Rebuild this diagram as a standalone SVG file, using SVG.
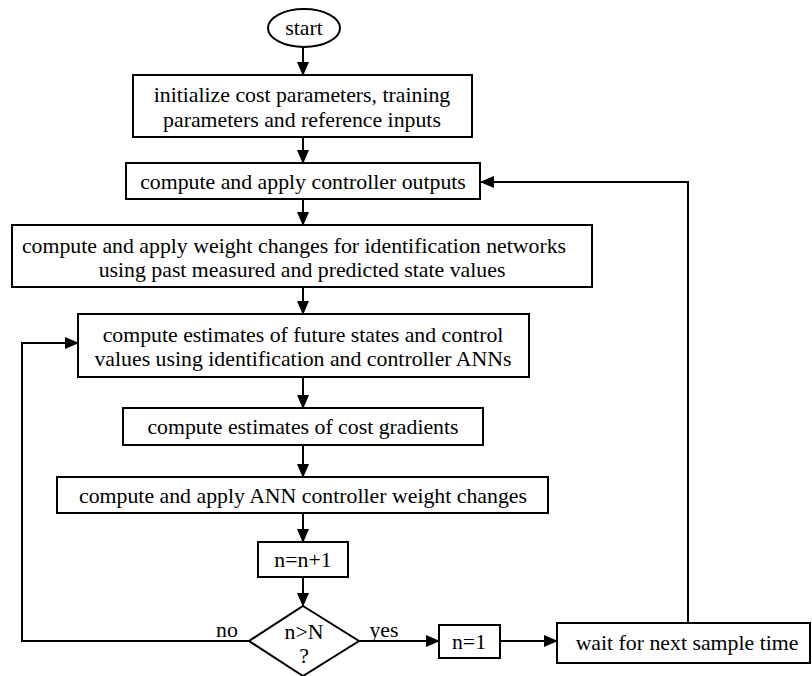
<svg xmlns="http://www.w3.org/2000/svg" width="812" height="676" viewBox="0 0 812 676">
<style>
.box{fill:#fff;stroke:#000;stroke-width:2}
.t{font-family:"Liberation Serif","Times New Roman",serif;font-size:21.8px;fill:#000;text-anchor:middle}
.c{fill:none;stroke:#000;stroke-width:2}
</style>
<defs>
<marker id="ah" markerUnits="userSpaceOnUse" markerWidth="14" markerHeight="12" refX="13" refY="6" orient="auto">
<path d="M0,0 L14,6 L0,12 z" fill="#000"/>
</marker>
</defs>
<rect width="812" height="676" fill="#fff"/>
<g id="connectors">
<line class="c" x1="303" y1="47" x2="303" y2="75" marker-end="url(#ah)"/>
<line class="c" x1="303" y1="137" x2="303" y2="163" marker-end="url(#ah)"/>
<line class="c" x1="303" y1="199" x2="303" y2="225" marker-end="url(#ah)"/>
<line class="c" x1="303" y1="287" x2="303" y2="314" marker-end="url(#ah)"/>
<line class="c" x1="303" y1="377" x2="303" y2="408" marker-end="url(#ah)"/>
<line class="c" x1="303" y1="445" x2="303" y2="477" marker-end="url(#ah)"/>
<line class="c" x1="303" y1="513" x2="303" y2="542" marker-end="url(#ah)"/>
<line class="c" x1="303" y1="577" x2="303" y2="606" marker-end="url(#ah)"/>
<line class="c" x1="359" y1="641" x2="439" y2="641" marker-end="url(#ah)"/>
<line class="c" x1="500" y1="641" x2="557" y2="641" marker-end="url(#ah)"/>
<polyline class="c" points="688,623 688,182 481,182" marker-end="url(#ah)"/>
<polyline class="c" points="249,641 22,641 22,343 78,343" marker-end="url(#ah)"/>
<text class="t" x="227" y="637">no</text>
<text class="t" x="384" y="637">yes</text>
</g>
<g id="start">
<ellipse class="box" cx="304" cy="28" rx="36" ry="19"/>
<text class="t" x="304" y="35">start</text>
</g>
<g id="init">
<rect class="box" x="133" y="75" width="339" height="62"/>
<text class="t" x="302" y="102">initialize cost parameters, training</text>
<text class="t" x="302" y="127">parameters and reference inputs</text>
</g>
<g id="controller-outputs">
<rect class="box" x="126" y="163" width="354" height="36"/>
<text class="t" x="303" y="189">compute and apply controller outputs</text>
</g>
<g id="id-weights">
<rect class="box" x="12" y="225" width="580" height="62"/>
<text class="t" x="294" y="253">compute and apply weight changes for identification networks</text>
<text class="t" x="302" y="277">using past measured and predicted state values</text>
</g>
<g id="estimates">
<rect class="box" x="78" y="314" width="451" height="63"/>
<text class="t" x="303" y="342">compute estimates of future states and control</text>
<text class="t" x="303" y="366">values using identification and controller ANNs</text>
</g>
<g id="gradients">
<rect class="box" x="123" y="408" width="360" height="37"/>
<text class="t" x="303" y="434">compute estimates of cost gradients</text>
</g>
<g id="ann-weights">
<rect class="box" x="57" y="477" width="491" height="36"/>
<text class="t" x="303" y="503">compute and apply ANN controller weight changes</text>
</g>
<g id="increment">
<rect class="box" x="258" y="542" width="90" height="35"/>
<text class="t" x="303" y="567">n=n+1</text>
</g>
<g id="decision">
<polygon class="box" points="303,606 359,641 303,676 249,641"/>
<text class="t" x="304" y="639">n&gt;N</text>
<text class="t" x="304" y="663">?</text>
</g>
<g id="reset">
<rect class="box" x="439" y="625" width="61" height="33"/>
<text class="t" x="469" y="649">n=1</text>
</g>
<g id="wait">
<rect class="box" x="557" y="623" width="253" height="40"/>
<text class="t" x="687" y="650">wait for next sample time</text>
</g>
</svg>
